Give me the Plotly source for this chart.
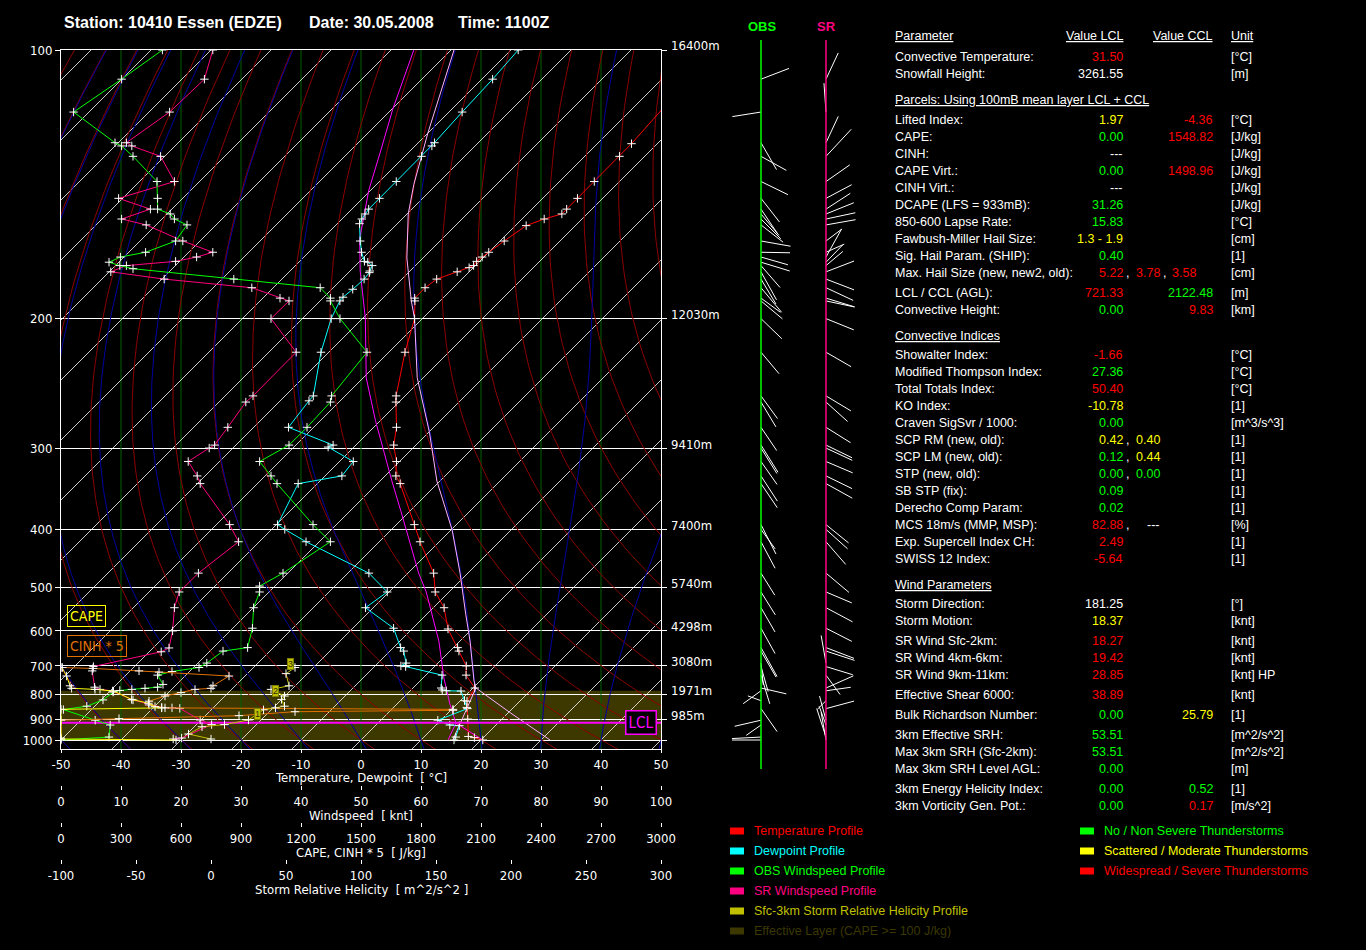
import numpy as np
import plotly.graph_objects as go

W, H = 1366, 950

# ---------------- sounding 10410 Essen, 30.05.2008 11Z ----------------
temp_p = [1000, 988, 982, 900, 850, 825, 775, 730, 700, 655, 645, 595, 544, 510, 473, 419, 393, 339, 330,
          314, 297, 280, 258, 253, 221, 200, 190, 188.5, 183, 178.6, 175, 173, 172, 170, 168, 165.8, 160.8,
          154.3, 151.6, 149.6, 147.7, 143.6, 137.5, 129, 125, 107, 100]
temp_c = [20.3, 18.5, 17.3, 14.3, 12.2, 11.2, 10.3, 6.7, 5.2, 1.5, 0.7, -4.0, -8.2, -12.3, -15.7, -23.2, -27.0,
          -36.2, -38.2, -40.5, -43.7, -46.2, -50.5, -51.5, -57.3, -61.3, -64.2, -64.7, -64.7, -64.2, -62.0,
          -60.7, -60.3, -60.5, -60.3, -60.0, -59.3, -58.2, -56.3, -54.2, -54.2, -54.2, -54.2, -54.2, -54.3,
          -55.5, -56.0]

dewp_p = [1000, 985, 930, 927, 905, 855, 823, 786, 785, 782, 775, 730, 702, 700, 691, 655, 645, 593, 544, 510,
          473, 419, 400, 393, 339, 330, 314, 299, 297, 280, 257, 253, 221, 200, 190, 188, 183.8, 178.6, 175.4,
          174.6, 172, 170.4, 170, 165.8, 160.8, 153.5, 151.6, 149.6, 147.7, 143.6, 137.5, 129, 125.7, 124.7,
          115.7, 107, 100]
dewp_c = [15.5, 15.3, 14.0, 12.3, 9.5, 12.5, 10.7, 8.5, 6.0, 5.2, 4.7, 2.7, -4.8, -5.7, -5.3, -7.7, -8.8, -13.2,
          -21.3, -20.3, -26.5, -42.2, -47.8, -49.8, -53.2, -47.2, -47.7, -54.3, -53.8, -64.2, -65.2, -65.3,
          -71.3, -75.2, -76.7, -76.8, -76.5, -76.3, -76.5, -76.7, -77.2, -78.5, -79.2, -81.2, -83.3, -86.3,
          -86.7, -87.0, -87.2, -87.2, -87.2, -87.2, -87.2, -87.3, -87.8, -88.2, -88.8]

# windspeed profiles [knt]
obs_p = [100, 107, 115.7, 124.7, 125.7, 129, 137.5, 143.6, 147.7, 149.6, 151.6, 154, 160.8, 165.8, 168, 170.4,
         172, 173.5, 178.6, 183, 188.5, 190, 200, 221, 253, 258, 280, 297, 314, 330, 339, 393, 419, 473, 498,
         510, 544, 593, 645, 655, 691, 705, 718, 730, 762, 772, 776, 780, 784, 790, 820, 845, 859, 905, 927,
         985, 1000]
obs_kt = [16.9, 10.1, 2.1, 9.0, 10.1, 12.0, 16.0, 16.1, 16.1, 18.2, 18.9, 21.0, 19.1, 14.1, 9.9, 8.0, 9.8, 12.0,
          28.8, 43.2, 44.9, 44.9, 46.5, 51.0, 45.1, 44.9, 41.0, 38.0, 33.1, 35.0, 36.0, 42.0, 44.9, 37.0, 33.1,
          33.1, 32.1, 31.9, 31.1, 27.0, 24.3, 23.0, 18.5, 16.1, 17.0, 16.1, 14.0, 11.8, 9.8, 8.7, 7.0, 4.3, 0.4,
          5.7, 8.2, 8.0, 0.0]

sr_p = [100, 107, 115.7, 124.7, 125.7, 129, 137.5, 143.6, 147.7, 151.6, 154, 160.8, 165.8, 168, 170, 172, 175,
        178.6, 183, 188.5, 190, 200, 221, 253, 258, 280, 297, 300, 314, 330, 339, 393, 419, 473, 510, 544, 600,
        646, 657, 702, 716, 772, 780, 786, 820, 850, 852, 854, 904, 925, 990, 995]
sr_kt = [25.3, 23.9, 18.1, 10.9, 11.8, 16.6, 18.9, 9.6, 14.9, 10.1, 14.2, 20.3, 25.3, 22.6, 19.1, 10.9, 8.3, 17.2,
         31.8, 36.5, 38.0, 35.0, 39.2, 32.0, 30.8, 27.8, 25.6, 24.7, 21.2, 22.7, 23.2, 28.1, 29.6, 22.9, 19.7,
         18.9, 18.6, 18.0, 16.7, 5.4, 5.2, 5.6, 6.5, 8.6, 12.0, 16.8, 18.5, 19.8, 23.2, 25.1, 20.1, 18.7]

# sfc-3km storm relative helicity profile [m^2/s^2], with the 1/2/3 km marks
srh_p = [995, 970, 935, 925, 904, 860, 852, 845, 818, 805, 780, 767, 725, 705]
srh_val = [0, -15, -6, 9, 25, 35, 43, 49, 47, 49, 40, 52, 50, 56]
srh_km_p = [879, 785, 695]
srh_km_val = [31, 43, 53]
srh_km_txt = ["1", "2", "3"]

# CAPE and CINH*5 profiles [J/kg]
cape_p = [705, 733, 767, 776, 780, 786, 818, 833, 847, 852, 858, 995, 1000]
cape_val = [5, 28, 45, 53, 170, 262, 353, 437, 470, 503, 0, 0, 575]
cinh_p = [705, 708, 716, 720, 733, 767, 776, 780, 792, 805, 825, 840, 852, 858, 862, 868, 885, 898, 905, 990]
cinh_val = [6, 160, 390, 490, 840, 760, 750, 670, 600, 520, 440, 440, 520, 1960, 1960, 1170, 890, 290, 0, 0]

# parcels (100mB mean layer LCL and CCL)
lcl_parcel_p = [1000, 918, 834, 740, 627, 552, 510, 473, 418, 374, 336, 304, 274, 239, 200, 174.6, 160, 152,
                140.7, 127, 115, 100]
lcl_parcel_c = [20.3, 13.0, 8.7, 3.5, -3.5, -9.7, -13.8, -18.2, -25.0, -31.5, -38.0, -44.2, -50.8, -59.5, -69.5,
                -78.3, -83.7, -86.3, -90.3, -95.0, -99.8, -106.2]
lcl_mix_p = [1000, 918]
lcl_mix_c = [14.5, 13.0]
ccl_parcel_p = [1000, 871, 775, 750, 627, 559, 473, 401, 336, 285, 239, 200, 190, 168.4, 149.6, 138.5, 121.8, 100]
ccl_parcel_c = [31.5, 20.2, 10.5, 9.0, 1.7, -3.5, -11.3, -19.8, -30.5, -39.8, -51.0, -61.3, -64.8, -72.7, -79.8,
                -83.8, -90.0, -99.5]
ccl_mix_p = [1000, 775]
ccl_mix_c = [15.3, 10.5]
lcl_p = 916
eff_layer_p = [1000, 785]

# wind sticks: level, screen direction [deg clockwise from up], stick length [px]
wind_p = [107, 115.7, 124.7, 129, 137.5, 143.6, 147.7, 149.6, 151.6, 154, 160.8, 165.8, 168, 170.4, 172, 175,
          178.6, 183, 188.5, 190, 200, 221, 253, 258, 280, 297, 300, 314, 330, 339, 393, 400, 419, 473, 510, 544,
          593, 645, 655, 691, 702, 730, 775, 785, 823, 855, 905, 927, 985, 1000]
obs_dir = [69, 261, 150, 119, 116, 142, 146, 140, 135, 128, 100, 91, 106, 107, 139, 151, 149, 140, 126, 130,
           134, 140, 144, 149, 146, 148, 148, 145, 147, 146, 153, 144, 152, 148, 148, 150, 151, 151, 150, 174,
           164, 163, 103, 234, 290, 145, 257, 235, 267, 270]
obs_len = [30, 29, 31, 29, 30, 30, 30, 28, 28, 28, 30, 29, 28, 30, 29, 32, 29, 32, 24, 28, 29, 28, 28, 29, 28,
           32, 30, 28, 30, 29, 33, 24, 30, 26, 27, 28, 29, 33, 30, 22, 26, 30, 26, 22, 14, 28, 27, 18, 29, 29]
sr_dir = [25, 356, 25, 43, 55, 62, 57, 68, 78, 80, 53, 66, 29, 44, 50, 69, 111, 115, 107, 102, 112, 120, 121,
          132, 122, 116, 115, 113, 116, 119, 129, 132, 139, 130, 113, 118, 117, 111, 108, 350, 107, 144, 66, 82,
          225, 75, 345, 340, 342, 350]
sr_len = [29, 29, 29, 37, 29, 29, 29, 30, 30, 30, 20, 20, 32, 24, 22, 30, 30, 30, 30, 29, 30, 29, 29, 29, 29, 29,
          29, 29, 29, 30, 29, 29, 30, 30, 28, 30, 29, 30, 30, 28, 28, 24, 30, 25, 12, 29, 25, 20, 30, 28]

p_ticks = [100, 200, 300, 400, 500, 600, 700, 800, 900, 1000]
height_p = [100, 200, 300, 400, 500, 600, 700, 800, 900]
height_txt = ["16400m", "12030m", "9410m", "7400m", "5740m", "4298m", "3080m", "1971m", "985m"]

# ---------------- colours / fonts ----------------
RED, GRN, YEL, WHT = "#ff0000", "#00ff00", "#ffff00", "#ffffff"
CYAN, PINK, OLIVE, EFF = "#00ffff", "#ff0080", "#c0c000", "#3c3800"
ORANGE, MAG, LAV = "#e07000", "#ff00ff", "#ffb0ff"
NARROW = "Liberation Sans Narrow, DejaVu Sans Condensed, Arial Narrow, sans-serif"
SANS = "Liberation Sans, Arial, sans-serif"


def px(x):
    return x / W


def py(y):
    return 1 - y / H


# stretched pressure coordinate of the diagram, 1 unit == 1 degC of the skewed x axis
C_EXP = 0.35
K_SCALE = 115.0 / (10 ** C_EXP - 1)
Y_RANGE = [-1.5, 115]


def yd(p):
    return K_SCALE * ((1000.0 / np.asarray(p, dtype=float)) ** C_EXP - 1)


def skew(t, p):
    return np.asarray(t, dtype=float) + yd(p)


def moist_adiabat(t0):
    def rate(t, p):
        tc = t - 273.15
        es = 6.112 * np.exp(17.67 * tc / (tc + 243.5))
        rs = 0.622 * es / (p - es)
        return (287.04 * t + 2.501e6 * rs) / (1005.7 + 2.501e6 ** 2 * rs * 0.622 / (287.04 * t ** 2)) / p

    out = {}
    for direction in (-1, 1):
        t, p = t0 + 273.15, 1000.0
        stop = 100.0 if direction < 0 else 1060.0
        h = 2.0 * direction
        out[p] = t
        while (p > stop) if direction < 0 else (p < stop):
            k1 = rate(t, p)
            k2 = rate(t + h * k1, p + h)
            t += h * (k1 + k2) / 2
            p += h
            out[round(p, 1)] = t
    ps = np.array(sorted(out.keys(), reverse=True))
    ts = np.array([out[k] for k in ps]) - 273.15
    return ps, ts


fig = go.Figure()


def note(x, y, text, xref="paper", yref="paper", xanchor="left", **kw):
    fig.add_annotation(x=x, y=y, xref=xref, yref=yref, xanchor=xanchor, yanchor="middle",
                       showarrow=False, text=text, **kw)


def lines(xs, ys, color, width=1):
    fig.add_trace(go.Scatter(x=xs, y=ys, mode="lines", line=dict(color=color, width=width)))


# effective layer
fig.add_shape(type="rect", xref="x", yref="y", x0=-50, x1=50,
              y0=float(yd(eff_layer_p[0])), y1=float(yd(eff_layer_p[1])),
              fillcolor=EFF, line_width=0, layer="below")

t_ticks = list(range(-50, 51, 10))

# vertical grid (dark green)
xs, ys = [], []
for t in t_ticks[1:-1]:
    xs += [t, t, None]
    ys += [Y_RANGE[0], Y_RANGE[1], None]
lines(xs, ys, "#006000")

# isotherms
xs, ys = [], []
for t in range(-170, 60, 10):
    for p in (1060, 100):
        xs.append(float(skew(t, p)))
        ys.append(float(yd(p)))
    xs.append(None)
    ys.append(None)
lines(xs, ys, "white", 0.8)

# dry adiabats
p_line = np.geomspace(1060, 100, 90)
xs, ys = [], []
for th in range(-70, 140, 10):
    t = (th + 273.15) * (p_line / 1000.0) ** 0.2857 - 273.15
    xs += list(skew(t, p_line)) + [None]
    ys += list(yd(p_line)) + [None]
lines(xs, ys, "#8c0000")

# moist adiabats
xs, ys = [], []
for t0 in range(-50, 60, 10):
    ps, ts = moist_adiabat(t0)
    xs += list(skew(ts, ps)) + [None]
    ys += list(yd(ps)) + [None]
lines(xs, ys, "#0000a0")

cross = dict(symbol="cross-thin", size=6, line=dict(color="white", width=1))


def profile(x, p, color, xaxis="x", markers=True, width=1):
    fig.add_trace(go.Scatter(x=x, y=yd(p), xaxis=xaxis, yaxis="y",
                             mode="lines+markers" if markers else "lines",
                             line=dict(color=color, width=width), marker=cross))


profile(cinh_val, cinh_p, ORANGE, xaxis="x3")
profile(cape_val, cape_p, YEL, xaxis="x3")
profile(srh_val, srh_p, OLIVE, xaxis="x4")
profile(sr_kt, sr_p, PINK, xaxis="x2")
profile(obs_kt, obs_p, GRN, xaxis="x2")
profile(skew(lcl_parcel_c, lcl_parcel_p), lcl_parcel_p, MAG, markers=False)
profile(skew(lcl_mix_c, lcl_mix_p), lcl_mix_p, MAG, markers=False)
profile(skew(ccl_parcel_c, ccl_parcel_p), ccl_parcel_p, LAV, markers=False)
profile(skew(ccl_mix_c, ccl_mix_p), ccl_mix_p, LAV, markers=False)
profile(skew(dewp_c, dewp_p), dewp_p, CYAN)
profile(skew(temp_c, temp_p), temp_p, RED)

# LCL line
lines([-50, 50], [float(yd(lcl_p))] * 2, MAG, 2)

# srh km marks
for p, v, s in zip(srh_km_p, srh_km_val, srh_km_txt):
    note(v, float(yd(p)), s, xref="x4", yref="y", xanchor="center",
         font=dict(family=SANS, size=9, color="#303000"), bgcolor=OLIVE,
         bordercolor="#808000", borderwidth=1, borderpad=0)

# ---------------- wind stick panel ----------------
OBS_X, SR_X = 761, 826


def sticks(base_x, dirs, lens):
    sx, sy = [], []
    for p, a, ln in zip(wind_p, dirs, lens):
        y0 = float(yd(p))
        r = np.radians(a)
        sx += [base_x, base_x + ln * np.sin(r), None]
        sy += [y0, y0 + ln * np.cos(r) / 6.0, None]
    return sx, sy


for base, dirs, lens, col in ((OBS_X, obs_dir, obs_len, GRN), (SR_X, sr_dir, sr_len, PINK)):
    fig.add_shape(type="line", xref="x5", yref="y5 domain", x0=base, x1=base, y0=0, y1=1,
                  line=dict(color=col, width=1.5))
    sx, sy = sticks(base, dirs, lens)
    fig.add_trace(go.Scatter(x=sx, y=sy, xaxis="x5", yaxis="y5", mode="lines",
                             line=dict(color="white", width=1)))

note(px(OBS_X + 1), py(27), "<b>OBS</b>", xanchor="center", font=dict(family=SANS, size=13, color=GRN))
note(px(SR_X), py(27), "<b>SR</b>", xanchor="center", font=dict(family=SANS, size=13, color=PINK))

# ---------------- titles and labels ----------------
for x0, s in ((62, "Station: 10410 Essen (EDZE)"), (307, "Date: 30.05.2008"), (456, "Time: 1100Z")):
    note(px(x0), py(23), "<b>" + s + "</b>", font=dict(family=SANS, size=16, color="white"))

for p, s in zip(height_p, height_txt):
    note(px(669), float(yd(p)), s, yref="y", yshift=4, font=dict(family=NARROW, size=13, color="white"))

for yy, s in ((777, "Temperature, Dewpoint  [ °C]"), (815, "Windspeed  [ knt]"),
              (852, "CAPE, CINH * 5  [ J/kg]"), (889, "Storm Relative Helicity  [ m^2/s^2 ]")):
    note(px(361), py(yy), s, xanchor="center", font=dict(family=NARROW, size=13, color="white"))

note(px(67), py(615.5), "CAPE", font=dict(family=NARROW, size=14, color=YEL), bordercolor=YEL,
     borderwidth=1, borderpad=2)
note(px(67), py(645.5), "CINH * 5", font=dict(family=NARROW, size=14, color=ORANGE), bordercolor=ORANGE,
     borderwidth=1, borderpad=2)
note(px(657), float(yd(lcl_p)), "LCL", yref="y", xanchor="right", font=dict(family=NARROW, size=15, color=MAG),
     bordercolor=MAG, borderwidth=1.5, borderpad=2, bgcolor="black")

# ---------------- parameter table ----------------
table_rows = [
    ("r", "Convective Temperature:", [("31.50", RED)], "[°C]"),
    ("r", "Snowfall Height:", [("3261.55", WHT)], "[m]"),
    ("h", "Parcels: Using 100mB mean layer LCL + CCL", [], ""),
    ("r", "Lifted Index:", [("1.97", YEL), ("-4.36", RED)], "[°C]"),
    ("r", "CAPE:", [("0.00", GRN), ("1548.82", RED)], "[J/kg]"),
    ("r", "CINH:", [("---", WHT)], "[J/kg]"),
    ("r", "CAPE Virt.:", [("0.00", GRN), ("1498.96", RED)], "[J/kg]"),
    ("r", "CINH Virt.:", [("---", WHT)], "[J/kg]"),
    ("r", "DCAPE (LFS = 933mB):", [("31.26", GRN)], "[J/kg]"),
    ("r", "850-600 Lapse Rate:", [("15.83", GRN)], "[°C]"),
    ("r", "Fawbush-Miller Hail Size:", [("1.3 - 1.9", YEL)], "[cm]"),
    ("r", "Sig. Hail Param. (SHIP):", [("0.40", GRN)], "[1]"),
    ("l", "Max. Hail Size (new, new2, old):", [("5.22", RED), ("3.78", RED), ("3.58", RED)], "[cm]"),
    ("g", "LCL / CCL (AGL):", [("721.33", RED), ("2122.48", GRN)], "[m]"),
    ("r", "Convective Height:", [("0.00", GRN), ("9.83", RED)], "[km]"),
    ("h", "Convective Indices", [], ""),
    ("r", "Showalter Index:", [("-1.66", RED)], "[°C]"),
    ("r", "Modified Thompson Index:", [("27.36", GRN)], "[°C]"),
    ("r", "Total Totals Index:", [("50.40", RED)], "[°C]"),
    ("r", "KO Index:", [("-10.78", YEL)], "[1]"),
    ("r", "Craven SigSvr / 1000:", [("0.00", GRN)], "[m^3/s^3]"),
    ("l", "SCP RM (new, old):", [("0.42", YEL), ("0.40", YEL)], "[1]"),
    ("l", "SCP LM (new, old):", [("0.12", GRN), ("0.44", YEL)], "[1]"),
    ("l", "STP (new, old):", [("0.00", GRN), ("0.00", GRN)], "[1]"),
    ("r", "SB STP (fix):", [("0.09", GRN)], "[1]"),
    ("r", "Derecho Comp Param:", [("0.02", GRN)], "[1]"),
    ("l", "MCS 18m/s (MMP, MSP):", [("82.88", RED), ("---", WHT)], "[%]"),
    ("r", "Exp. Supercell Index CH:", [("2.49", RED)], "[1]"),
    ("r", "SWISS 12 Index:", [("-5.64", RED)], "[1]"),
    ("h", "Wind Parameters", [], ""),
    ("r", "Storm Direction:", [("181.25", WHT)], "[°]"),
    ("r", "Storm Motion:", [("18.37", YEL)], "[knt]"),
    ("g", "SR Wind Sfc-2km:", [("18.27", RED)], "[knt]"),
    ("r", "SR Wind 4km-6km:", [("19.42", RED)], "[knt]"),
    ("r", "SR Wind 9km-11km:", [("28.85", RED)], "[knt] HP"),
    ("g", "Effective Shear 6000:", [("38.89", RED)], "[knt]"),
    ("g", "Bulk Richardson Number:", [("0.00", GRN), ("25.79", YEL)], "[1]"),
    ("g", "3km Effective SRH:", [("53.51", GRN)], "[m^2/s^2]"),
    ("r", "Max 3km SRH (Sfc-2km):", [("53.51", GRN)], "[m^2/s^2]"),
    ("r", "Max 3km SRH Level AGL:", [("0.00", GRN)], "[m]"),
    ("g", "3km Energy Helicity Index:", [("0.00", GRN), ("0.52", GRN)], "[1]"),
    ("r", "3km Vorticity Gen. Pot.:", [("0.00", GRN), ("0.17", RED)], "[m/s^2]"),
]

LABEL_X, LCL_X, CCL_X, UNIT_X = 894, 1123.5, 1213.5, 1230
LIST_X = [1123.5, 1160.5, 1196.5]


def txt(x, y, s, color="white", anchor="left"):
    note(px(x), py(y), s, xanchor=anchor, font=dict(family=SANS, size=12.5, color=color), borderpad=0)


txt(LABEL_X, 35.5, "<u>Parameter</u>")
txt(LCL_X, 35.5, "<u>Value LCL</u>", anchor="right")
txt(CCL_X, 35.5, "<u>Value CCL</u>", anchor="right")
txt(UNIT_X, 35.5, "<u>Unit</u>")

y = 57.3 - 17
prev_head = False
for kind, label, vals, unit in table_rows:
    if kind == "h":
        y += 26
    elif prev_head:
        y += 19.3
    elif kind == "g":
        y += 20
    else:
        y += 17
    prev_head = kind == "h"
    if kind == "h":
        txt(LABEL_X, y, "<u>" + label + "</u>")
        continue
    txt(LABEL_X, y, label)
    if kind == "l":
        for i, (v, c) in enumerate(vals):
            txt(LIST_X[i], y, v, c, anchor="right")
            if i < len(vals) - 1:
                txt(LIST_X[i] + 1.5, y, ",")
    else:
        for (v, c), xx in zip(vals, (LCL_X, CCL_X)):
            txt(xx, y, v, c, anchor="right")
    txt(UNIT_X, y, unit)

# ---------------- colour key ----------------
legend_left = [("Temperature Profile", RED), ("Dewpoint Profile", CYAN), ("OBS Windspeed Profile", GRN),
               ("SR Windspeed Profile", PINK), ("Sfc-3km Storm Relative Helicity Profile", OLIVE),
               ("Effective Layer (CAPE >= 100 J/kg)", EFF)]
legend_right = [("No / Non Severe Thunderstorms", GRN), ("Scattered / Moderate Thunderstorms", YEL),
                ("Widespread / Severe Thunderstorms", RED)]
for col_x, items in ((730, legend_left), (1080, legend_right)):
    for i, (lab, c) in enumerate(items):
        yy = 831 + 20 * i
        fig.add_shape(type="rect", xref="paper", yref="paper", x0=px(col_x), x1=px(col_x + 14),
                      y0=py(yy + 3.5), y1=py(yy - 3.5), fillcolor=c, line_width=0)
        txt(col_x + 23, yy, lab, c)

# ---------------- axes ----------------
tick_font = dict(family=NARROW, size=13, color="white")
free_x = dict(overlaying="x", anchor="free", ticks="outside", ticklen=4, tickcolor="white", tickwidth=1,
              tickfont=tick_font, showline=False, showgrid=False, zeroline=False, automargin=False)


def labels(vals):
    return [str(v) for v in vals]


ws_ticks = list(range(0, 101, 10))
cape_ticks = list(range(0, 3001, 300))
srh_ticks = list(range(-100, 301, 50))

fig.update_layout(
    template="none",
    width=W, height=H, margin=dict(l=0, r=0, t=0, b=0),
    paper_bgcolor="black", plot_bgcolor="black", showlegend=False, hovermode=False,
    xaxis=dict(domain=[px(61), px(661)], range=[-50, 50], anchor="y",
               tickvals=t_ticks, ticktext=labels(t_ticks), ticks="outside", ticklen=3, tickcolor="white",
               tickfont=tick_font, showline=True, linecolor="white", linewidth=1, mirror=True,
               showgrid=False, zeroline=False, automargin=False),
    xaxis2=dict(free_x, range=[0, 100], tickvals=ws_ticks, ticktext=labels(ws_ticks), position=py(785)),
    xaxis3=dict(free_x, range=[0, 3000], tickvals=cape_ticks, ticktext=labels(cape_ticks), position=py(822)),
    xaxis4=dict(free_x, range=[-100, 300], tickvals=srh_ticks, ticktext=labels(srh_ticks), position=py(859)),
    yaxis=dict(domain=[py(749), py(50)], range=Y_RANGE, anchor="x",
               tickvals=[float(v) for v in yd(p_ticks)], ticktext=labels(p_ticks),
               ticks="outside", ticklen=5, tickcolor="white", tickfont=tick_font,
               showline=True, linecolor="white", linewidth=1, mirror="ticks",
               showgrid=True, gridcolor="white", gridwidth=1, zeroline=False, automargin=False),
    xaxis5=dict(domain=[px(700), px(880)], range=[700, 880], anchor="y5", visible=False),
    yaxis5=dict(domain=[py(769), py(40)], range=[-29 / 6, 700 / 6], anchor="x5", visible=False),
)

# the page body keeps its default 8px margin otherwise
fig.write_html("out.html", config={"displayModeBar": False},
               post_script="document.body.style.margin='0';document.body.style.background='black';")
